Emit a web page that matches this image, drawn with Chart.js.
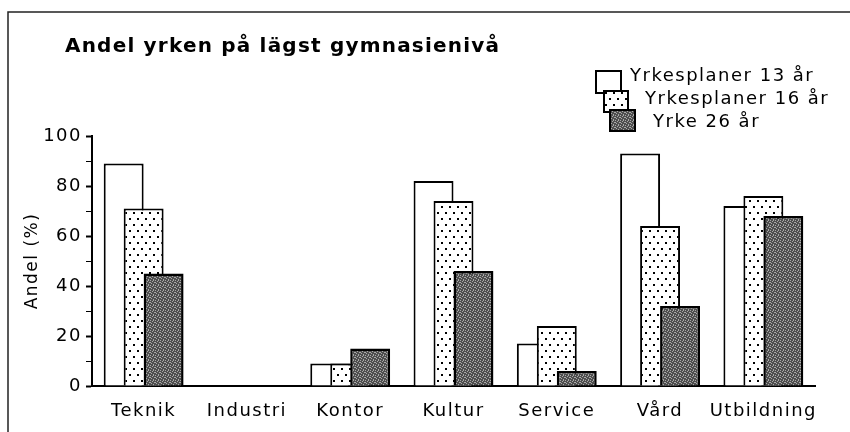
<!DOCTYPE html>
<html>
<head>
<meta charset="utf-8">
<script src="https://cdn.jsdelivr.net/npm/chart.js@4"></script>
<style>
  body { margin: 0; background: #fff; }
  canvas { display: block; }
</style>
</head>
<body>
<canvas id="barChart" width="850" height="432"></canvas>
<script>
// Data for the chart
const categories = ['Teknik', 'Industri', 'Kontor', 'Kultur', 'Service', 'Vård', 'Utbildning'];
const seriesNames = ['Yrkesplaner 13 år', 'Yrkesplaner 16 år', 'Yrke 26 år'];
const plan13 = [89, 0, 9, 82, 17, 93, 72];
const plan16 = [71, 0, 9, 74, 24, 64, 76];
const yrke26 = [45, 0, 15, 46, 6, 32, 68];
const yTickLabels = [0, 20, 40, 60, 80, 100];
const chartTitle = 'Andel yrken på lägst gymnasienivå';
const yTitle = 'Andel (%)';

// old-style fill patterns
function dotPattern() {
    const c = document.createElement('canvas');
    c.width = 8; c.height = 12;
    const g = c.getContext('2d');
    g.fillStyle = '#fff';
    g.fillRect(0, 0, 8, 12);
    g.fillStyle = '#000';
    g.fillRect(1, 2, 2, 2);
    g.fillRect(5, 8, 2, 2);
    return g.createPattern(c, 'repeat');
}
function darkPattern() {
    const c = document.createElement('canvas');
    c.width = 5; c.height = 5;
    const g = c.getContext('2d');
    g.fillStyle = '#4e4e4e';
    g.fillRect(0, 0, 5, 5);
    g.fillStyle = '#a8a8a8';
    // a few light specks, spread unevenly so no stripes show
    [[0, 0], [2, 1], [4, 2], [1, 3], [3, 4], [3, 0], [0, 2]].forEach(p => g.fillRect(p[0], p[1], 1, 1));
    return g.createPattern(c, 'repeat');
}

const tickFont = { family: 'DejaVu Sans', size: 18 };

// frame, title and staggered legend
const decorations = {
    id: 'decorations',
    beforeDraw(chart) {
        const ctx = chart.ctx;
        ctx.letterSpacing = '1.5px';
        ctx.save();
        ctx.strokeStyle = '#222';
        ctx.lineWidth = 1.5;
        ctx.beginPath();
        ctx.moveTo(8, 432);
        ctx.lineTo(8, 12);
        ctx.lineTo(850, 12);
        ctx.stroke();

        ctx.fillStyle = '#000';
        ctx.font = 'bold 20px "DejaVu Sans"';
        ctx.letterSpacing = '1.2px';
        ctx.textBaseline = 'middle';
        ctx.textAlign = 'left';
        ctx.fillText(chartTitle, 65, 47);
        ctx.restore();
    },
    afterDraw(chart) {
        const ctx = chart.ctx;
        const boxes = [[595, 70, 27, 24], [603, 90, 26, 23], [609, 109, 27, 23]];
        const textPos = [[630, 76], [645, 99], [653, 122]];
        ctx.save();
        chart.data.datasets.forEach((ds, i) => {
            const [x, y, w, h] = boxes[i];
            ctx.fillStyle = ds.backgroundColor;
            ctx.fillRect(x, y, w, h);
            ctx.strokeStyle = '#000';
            ctx.lineWidth = 2;
            ctx.strokeRect(x + 1, y + 1, w - 2, h - 2);
        });
        ctx.fillStyle = '#000';
        ctx.font = '18px "DejaVu Sans"';
        ctx.textBaseline = 'middle';
        chart.data.datasets.forEach((ds, i) => {
            ctx.fillText(ds.label, textPos[i][0], textPos[i][1]);
        });
        ctx.restore();
    }
};

// draw the series left to right so later bars overlap earlier ones
const overlapOrder = {
    id: 'overlapOrder',
    beforeDatasetsDraw(chart) {
        for (let i = 0; i < chart.data.datasets.length; i++) {
            chart.getDatasetMeta(i).controller.draw();
        }
        return false;
    }
};

const barChart = new Chart(document.getElementById('barChart'), {
    type: 'bar',
    data: {
        labels: categories,
        datasets: [{
            label: seriesNames[0],
            data: plan13,
            backgroundColor: '#fff',
            borderWidth: 2
        }, {
            label: seriesNames[1],
            data: plan16,
            backgroundColor: dotPattern(),
            borderWidth: 2
        }, {
            label: seriesNames[2],
            data: yrke26,
            backgroundColor: darkPattern(),
            borderWidth: 2.5
        }]
    },
    options: {
        responsive: false,
        animation: false,
        devicePixelRatio: 1,
        datasets: {
            bar: {
                borderColor: '#000',
                barPercentage: 2,
                categoryPercentage: 0.58
            }
        },
        layout: { padding: { top: 136, right: 35, bottom: 0, left: 0 } },
        plugins: {
            legend: { display: false },
            tooltip: { enabled: false }
        },
        scales: {
            x: {
                grid: { display: false },
                border: { color: '#000', width: 2 },
                ticks: { color: '#000', font: tickFont, padding: 7, maxRotation: 0, autoSkip: false },
                afterFit(scale) { scale.height = 46; }
            },
            y: {
                min: 0,
                max: 100,
                ticks: {
                    stepSize: 10,
                    color: '#000',
                    font: tickFont,
                    padding: 4,
                    callback: v => yTickLabels.includes(v) ? v : ''
                },
                grid: {
                    drawOnChartArea: false,
                    tickLength: 6,
                    color: '#000',
                    tickWidth: c => yTickLabels.includes(c.tick.value) ? 2 : 1
                },
                border: { color: '#000', width: 2 },
                title: {
                    display: true,
                    text: yTitle,
                    color: '#000',
                    font: { family: 'DejaVu Sans', size: 17 },
                    padding: { top: 22, bottom: 0 }
                },
                afterFit(scale) { scale.width = 92; }
            }
        }
    },
    plugins: [decorations, overlapOrder]
});
</script>
</body>
</html>
